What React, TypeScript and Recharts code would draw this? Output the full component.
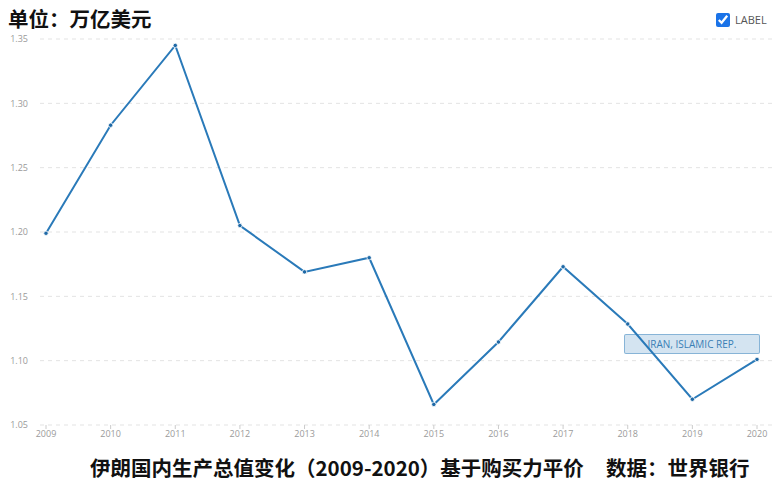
import React from 'react';
import { LineChart, Line, XAxis, YAxis, CartesianGrid } from 'recharts';

const years = ['2009', '2010', '2011', '2012', '2013', '2014', '2015', '2016', '2017', '2018', '2019', '2020'];
const gdpPpp = [1.199, 1.283, 1.345, 1.205, 1.169, 1.18, 1.066, 1.1145, 1.173, 1.1285, 1.07, 1.101];
const yTicks = [1.05, 1.1, 1.15, 1.2, 1.25, 1.3, 1.35];

const data = years.map((year, i) => ({ year, value: gdpPpp[i] }));

const LINE_COLOR = '#2a7ab9';
const TICK_STYLE = { fontSize: 9, fill: '#9a9a9a', fontFamily: '"Open Sans", sans-serif' };

const App: React.FC = () => {
  return (
    <div style={{ position: 'absolute', left: 0, top: 0, width: 783, height: 491, background: '#fff' }}>
      <LineChart
        width={783}
        height={491}
        data={data}
        margin={{ top: 39, right: 8, left: 0, bottom: 36 }}
      >
        <CartesianGrid strokeDasharray="4 4" stroke="#e3e3e3" vertical={false} />
        <XAxis
          dataKey="year"
          axisLine={false}
          tickLine={{ stroke: '#cccccc' }}
          tickSize={4}
          tick={TICK_STYLE}
          height={30}
          padding={{ left: 6, right: 18 }}
          interval={0}
        />
        <YAxis
          domain={[1.05, 1.35]}
          ticks={yTicks}
          tickFormatter={(v: number) => v.toFixed(2)}
          axisLine={false}
          tickLine={false}
          tick={TICK_STYLE}
          width={40}
          tickMargin={6}
        />
        <Line
          type="linear"
          dataKey="value"
          stroke={LINE_COLOR}
          strokeWidth={2}
          dot={{ r: 2.2, fill: '#1f69a6', stroke: '#ffffff', strokeWidth: 0.8 }}
          isAnimationActive={false}
        />
      </LineChart>

      <div
        style={{
          position: 'absolute',
          left: 8,
          top: 4,
          fontFamily: '"Noto Sans CJK SC", sans-serif',
          fontWeight: 700,
          fontSize: 20.5,
          color: '#111',
          lineHeight: '28px',
        }}
      >
        单位：万亿美元
      </div>

      <div
        style={{
          position: 'absolute',
          left: 716,
          top: 12,
          display: 'flex',
          alignItems: 'center',
          fontFamily: '"Open Sans", sans-serif',
          fontSize: 11,
          color: '#555',
        }}
      >
        <input type="checkbox" checked readOnly style={{ margin: 0, width: 14, height: 14, accentColor: '#1a73e8' }} />
        <span style={{ marginLeft: 5 }}>LABEL</span>
      </div>

      <div
        style={{
          position: 'absolute',
          left: 624,
          top: 334,
          width: 134,
          height: 18,
          background: 'rgba(42,122,185,0.2)',
          border: '1px solid rgba(42,122,185,0.45)',
          borderRadius: 2,
          fontFamily: '"Open Sans", sans-serif',
          fontSize: 10,
          color: '#3a7fb5',
          textAlign: 'center',
          lineHeight: '18px',
        }}
      >
        IRAN, ISLAMIC REP.
      </div>

      <div
        style={{
          position: 'absolute',
          left: 90,
          top: 453,
          fontFamily: '"Noto Sans CJK SC", sans-serif',
          fontWeight: 700,
          fontSize: 20.5,
          color: '#111',
          lineHeight: '28px',
          whiteSpace: 'pre',
        }}
      >
        <span>伊朗国内生产总值变化（2009-2020）基于购买力平价</span>
        <span style={{ position: 'absolute', left: 516, top: 0 }}>数据：世界银行</span>
      </div>
    </div>
  );
};

export default App;
